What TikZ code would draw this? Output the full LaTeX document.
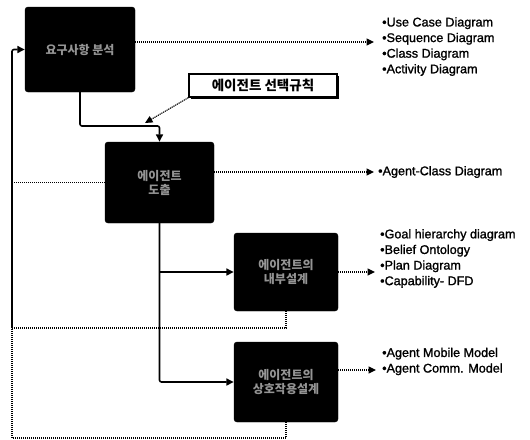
\documentclass[tikz,border=0pt]{standalone}
\usepackage{fontspec}
\setmainfont{Liberation Sans}
\newfontfamily\lstfont{Liberation Sans}[FakeBold=1.3]
\newfontfamily\kr{Noto Sans CJK KR}
\usetikzlibrary{arrows.meta,calc,shadows}
\begin{document}
\begin{tikzpicture}[x=1pt,y=-1pt,
  blk/.style={draw=black, fill=black, rounded corners=3pt, inner sep=0pt, align=center,
    text=black!42, font=\kr\bfseries\fontsize{12}{14}\selectfont},
  rulebox/.style={draw=black, line width=1.4pt, fill=white, minimum width=148pt, minimum height=23pt,
    inner sep=0pt, font=\kr\bfseries\fontsize{13.5}{15}\selectfont,
    drop shadow={shadow xshift=1.6pt, shadow yshift=-1.6pt, fill=black, opacity=1}},
  lst/.style={anchor=west, inner sep=0pt, align=left, font=\lstfont\fontsize{12.6}{15.6}\selectfont},
  solidarrow/.style={line width=1.6pt, rounded corners=2pt, -{Triangle[length=7.5pt,width=7pt]}},
  dotline/.style={line width=1.1pt, dash pattern=on 1.2pt off 0.8pt},
  dotarrow/.style={dotline, -{Triangle[length=7.5pt,width=7pt]}}
]
\useasboundingbox (0,0) rectangle (530,439);

% boxes
\node[blk, minimum width=110pt, minimum height=85pt] (b1) at (80,49.5) {요구사항 분석};
\node[blk, minimum width=109pt, minimum height=81pt] (b2) at (159.5,182.5) {에이전트\\도출};
\node[blk, minimum width=104pt, minimum height=78pt] (b3) at (286,272) {에이전트의\\내부설계};
\node[blk, minimum width=104pt, minimum height=80pt] (b4) at (286,382) {에이전트의\\상호작용설계};
\node[rulebox] (r) at (263,85.5) {에이전트 선택규칙};

% lists
\node[lst] (l1) at (382,46.6) {•Use Case Diagram\\•Sequence Diagram\\•Class Diagram\\•Activity Diagram};
\node[lst] (l2) at (378,172) {•Agent-Class Diagram};
\node[lst] (l3) at (380,258.5) {•Goal hierarchy diagram\\•Belief Ontology\\•Plan Diagram\\•Capability- DFD};
\node[lst] (l4) at (382,361.5) {•Agent Mobile Model\\•Agent Comm. Model};

% coordinates
\coordinate (a1) at (374,42);
\coordinate (a2) at (374,172);
\coordinate (a3) at (375,272);
\coordinate (a4) at (376,370);
\coordinate (j) at (0,126);
\coordinate (rt) at (145,123);
\coordinate (fb) at (12,328);
\coordinate (bot) at (12,438);

% outputs
\draw[dotarrow] (b1.east |- a1) -- (a1);
\draw[dotarrow] (b2.east |- a2) -- (a2);
\draw[dotarrow] (b3.east) -- (a3);
\draw[dotarrow] (b4.east |- a4) -- (a4);

% main flow
\draw[solidarrow] (b1.south) -- (b1.south |- j) -| (b2.north);
\draw[dotarrow] (r.south west) -- (rt);
\draw[solidarrow] (b2.south) |- (b4.west);
\draw[solidarrow] (b2.south |- b3.west) -- (b3.west);

% feedback
\draw[solidarrow] (fb) |- (b1.west);
\draw[dotline] (b2.west) -- (b2.west -| fb);
\draw[dotline] (b3.south) |- (fb);
\draw[dotline] (b4.south) |- (bot) -- (fb);
\end{tikzpicture}
\end{document}
